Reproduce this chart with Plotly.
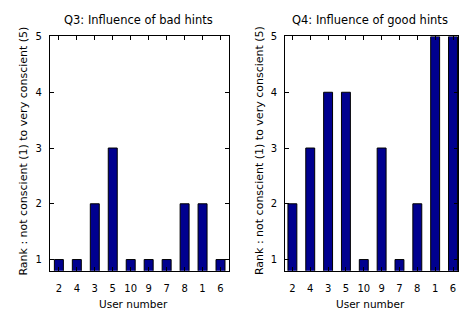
import plotly.graph_objects as go

users = ["2", "4", "3", "5", "10", "9", "7", "8", "1", "6"]
q3_bad_hints = [1, 1, 2, 3, 1, 1, 1, 2, 2, 1]
q4_good_hints = [2, 3, 4, 4, 1, 3, 1, 2, 5, 5]
y_ticks = [1, 2, 3, 4, 5]

W, H = 459, 315
FONT = "DejaVu Sans, Liberation Sans, sans-serif"
BAR = "#00008F"

fig = go.Figure()
fig.add_trace(go.Bar(x=users, y=q3_bad_hints, xaxis="x", yaxis="y", width=0.5,
                     marker=dict(color=BAR, line=dict(color="black", width=1))))
fig.add_trace(go.Bar(x=users, y=q4_good_hints, xaxis="x2", yaxis="y2", width=0.5,
                     marker=dict(color=BAR, line=dict(color="black", width=1))))

def px(x):
    return x / W

def py(y):
    return 1 - y / H

tick_font = dict(family=FONT, size=10, color="black")
common_x = dict(type="category", showline=True, linecolor="black", linewidth=1, mirror="ticks",
                ticks="inside", ticklen=4, tickcolor="black", showgrid=False,
                tickfont=tick_font, ticklabelstandoff=8)
common_y = dict(range=[0.8, 5], tickvals=y_ticks, showline=True, linecolor="black", linewidth=1,
                mirror="ticks", ticks="inside", ticklen=4, tickcolor="black", showgrid=False,
                zeroline=False, tickfont=tick_font, ticklabelstandoff=5)

fig.update_layout(
    width=W, height=H, margin=dict(l=0, r=0, t=0, b=0),
    paper_bgcolor="white", plot_bgcolor="white", showlegend=False,
    xaxis=dict(domain=[px(50), px(230)], anchor="y", range=[-0.5, 9.5], **common_x),
    yaxis=dict(domain=[py(270), py(32)], anchor="x", **common_y),
    xaxis2=dict(domain=[px(285.7), 1], anchor="y2", range=[-0.41, 9.28], **common_x),
    yaxis2=dict(domain=[py(270), py(32)], anchor="x2", **common_y),
)

title_font = dict(family=FONT, size=11.5, color="black")
label_font = dict(family=FONT, size=10.5, color="black")
ylabel_font = dict(family=FONT, size=11, color="black")
ylabel = "Rank : not conscient (1) to very conscient (5)"

def note(x, y, text, font, angle=0):
    fig.add_annotation(x=px(x), y=py(y), xref="paper", yref="paper", text=text,
                       xanchor="center", yanchor="middle", textangle=angle,
                       showarrow=False, font=font)

note(139, 15, "Q3: Influence of bad hints", title_font)
note(371, 15, "Q4: Influence of good hints", title_font)
note(134, 304, "User number", label_font)
note(371, 304, "User number", label_font)
note(24, 148, ylabel, ylabel_font, -90)
note(260, 148, ylabel, ylabel_font, -90)

fig.write_html("out.html", config={"displayModeBar": False},
               post_script="document.body.style.margin='0';")
